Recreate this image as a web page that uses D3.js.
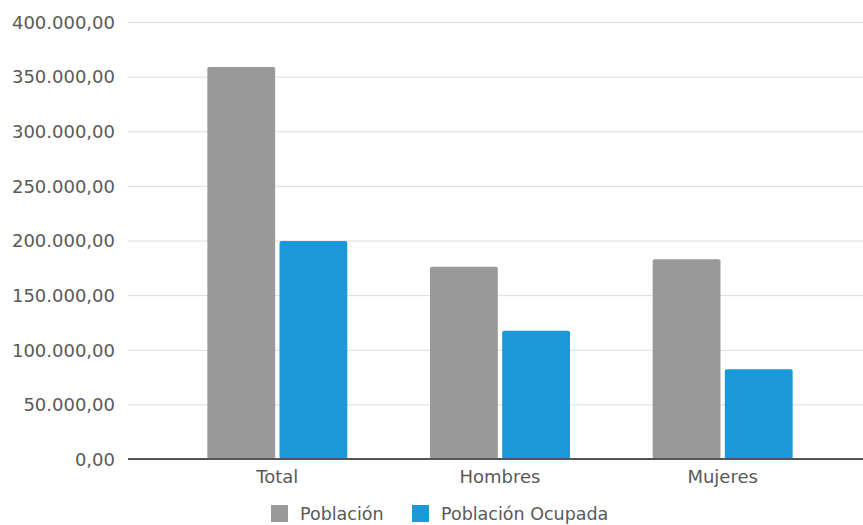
<!DOCTYPE html>
<html>
<head>
<meta charset="utf-8">
<script src="https://cdn.jsdelivr.net/npm/d3@7"></script>
<style>
	body { margin: 0; background: #fff; }
	text { font-family: 'DejaVu Sans', Verdana, sans-serif; fill: #595959; }
</style>
</head>
<body>
<svg></svg>
<script>
const categories = ['Total', 'Hombres', 'Mujeres'];
const seriesNames = ['Población', 'Población Ocupada'];
const poblacion = [358800, 176000, 182800];
const ocupada = [199500, 117400, 82100];
const yTicks = [0, 50000, 100000, 150000, 200000, 250000, 300000, 350000, 400000];
const colors = ['#999999', '#1a98d7'];

const width = 863;
const height = 525;
const gridLeft = 128;
const plotTop = 22;
const plotBottom = 459;

const svg = d3.select('svg')
	.attr('width', width)
	.attr('height', height);

const data = categories.map((c, i) => ({ category: c, values: [poblacion[i], ocupada[i]] }));

const yScale = d3.scaleLinear()
	.domain([0, 400000])
	.range([plotBottom, plotTop]);

const xScale = d3.scaleBand()
	.domain(categories)
	.range([166, 834]);

const xSub = d3.scaleBand()
	.domain(seriesNames)
	.range([xScale.bandwidth() / 2 - 70, xScale.bandwidth() / 2 + 70])
	.paddingInner(0.06);

const fmt = d3.formatLocale({ decimal: ',', thousands: '.', grouping: [3], currency: ['', '€'] }).format(',.2f');

// grid + y labels
const yAxis = d3.axisLeft(yScale)
	.tickValues(yTicks)
	.tickSize(-(width - gridLeft))
	.tickPadding(13)
	.tickFormat(fmt);

const yAxisG = svg.append('g')
	.attr('transform', `translate(${gridLeft},0)`)
	.call(yAxis);
yAxisG.select('.domain').remove();
yAxisG.selectAll('line').attr('stroke', '#dcdcdc');
yAxisG.selectAll('text')
	.style('font-size', '18px')
	.attr('dy', '0.35em');

// bars
const groups = svg.append('g').selectAll('g.group').data(data)
	.enter().append('g')
		.attr('class', 'group')
		.attr('transform', d => `translate(${xScale(d.category)},0)`);

groups.selectAll('rect')
	.data(d => d.values.map((v, i) => ({ key: seriesNames[i], value: v, i })))
	.enter().append('rect')
		.attr('x', d => xSub(d.key))
		.attr('width', xSub.bandwidth())
		.attr('y', d => yScale(d.value))
		.attr('height', d => plotBottom - yScale(d.value))
		.attr('rx', 2)
		.attr('fill', d => colors[d.i]);

// x axis
const xAxis = d3.axisBottom(xScale).tickSize(0).tickPadding(11);
const xAxisG = svg.append('g')
	.attr('transform', `translate(0,${plotBottom})`)
	.call(xAxis);
xAxisG.select('.domain').remove();
xAxisG.selectAll('text').style('font-size', '18px');
svg.append('line')
	.attr('x1', gridLeft).attr('x2', width)
	.attr('y1', plotBottom).attr('y2', plotBottom)
	.attr('stroke', '#555')
	.attr('stroke-width', 2);

// legend
const legendItems = [{ name: seriesNames[0], x: 271 }, { name: seriesNames[1], x: 412 }];
const legend = svg.append('g').selectAll('g').data(legendItems)
	.enter().append('g')
		.attr('transform', d => `translate(${d.x},505)`);
legend.append('rect')
	.attr('width', 17).attr('height', 17)
	.attr('fill', (d, i) => colors[i]);
legend.append('text')
	.attr('x', 29)
	.attr('y', 9)
	.attr('dy', '0.35em')
	.style('font-size', '17.5px')
	.text(d => d.name);
</script>
</body>
</html>
